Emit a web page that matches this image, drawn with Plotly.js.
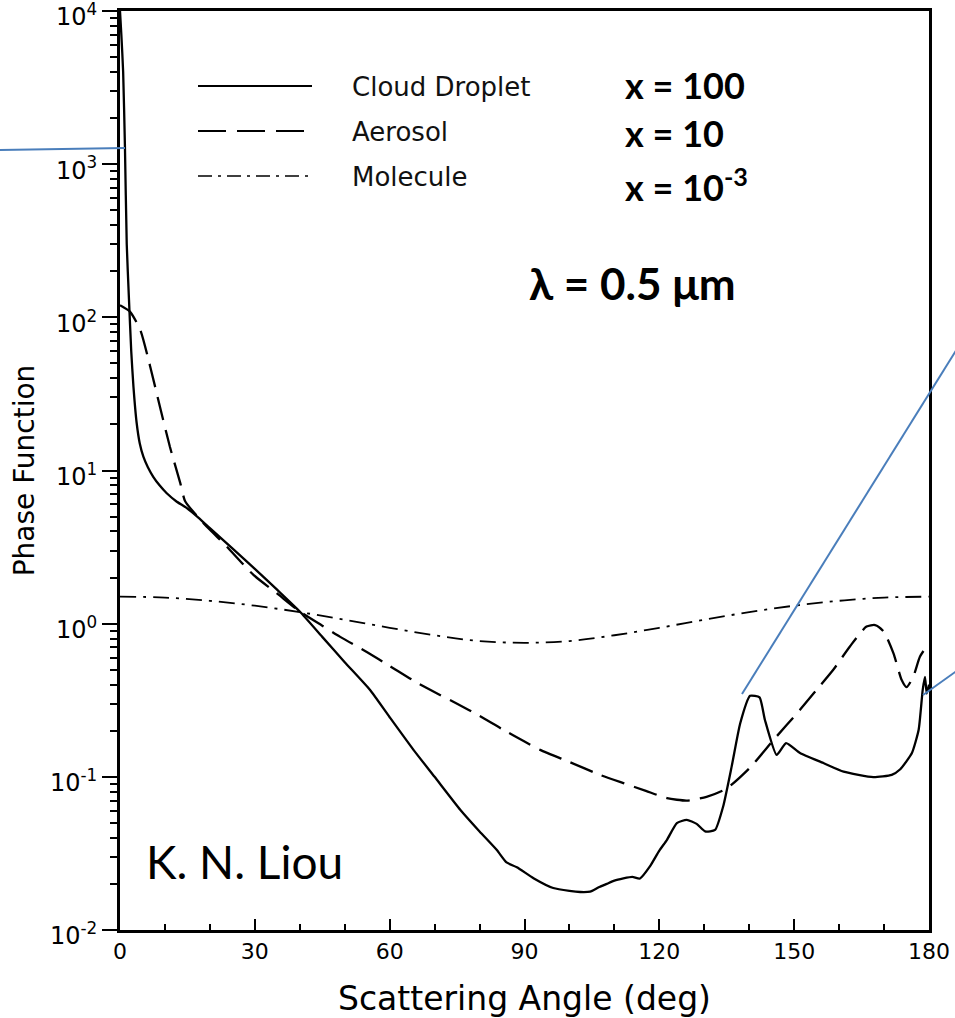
<!DOCTYPE html>
<html>
<head>
<meta charset="utf-8">
<script src="https://cdn.plot.ly/plotly-3.0.1.min.js"></script>
<style>html,body{margin:0;padding:0;background:#fff}#chart{width:955px;height:1018px}</style>
</head>
<body>
<div id="chart"></div>
<script>
// Cloud droplet (x = 100)
const cloudAngle = [0, 0.3, 0.7, 1.1, 1.5, 2.0, 2.5, 3.0, 3.7, 4.4, 5.2, 6.2, 7.4, 8.8, 10.4, 12.5, 14.8, 17.5, 20, 25, 30, 35, 40, 45, 50, 55.6, 60, 65.3, 70, 75.7, 80, 83.8, 86, 88.3, 92, 96.4, 100, 102.4, 104.6, 106.5, 108.3, 110, 112, 114, 115.7, 117.9, 120, 121.7, 123.9, 126.1, 128.3, 130.2, 132.4, 134.2, 136.1, 138, 140.2, 142.3, 143.5, 146.1, 148.2, 151.3, 156.5, 161, 167.6, 171.7, 173.6, 176.2, 177.7, 178.6, 179.1, 179.5, 180];
const cloudPhase = [10000, 7000, 4000, 1300, 300, 130, 60, 35, 20.5, 15, 12.3, 10.5, 9.1, 8, 7.1, 6.3, 5.7, 4.9, 4.2, 3.1, 2.28, 1.66, 1.2, 0.82, 0.56, 0.37, 0.245, 0.15, 0.1, 0.061, 0.044, 0.0334, 0.0276, 0.0257, 0.0218, 0.0188, 0.018, 0.0177, 0.0178, 0.019, 0.02, 0.021, 0.0217, 0.0222, 0.0217, 0.026, 0.033, 0.0388, 0.0499, 0.0524, 0.0493, 0.044, 0.045, 0.064, 0.117, 0.224, 0.338, 0.33, 0.235, 0.139, 0.166, 0.143, 0.123, 0.108, 0.0995, 0.103, 0.112, 0.143, 0.203, 0.37, 0.45, 0.35, 0.4];

// Aerosol (x = 10)
const aerosolAngle = [0, 2.2, 4.5, 6.7, 8.9, 11.1, 13.4, 14.5, 17.8, 20, 23.7, 29.7, 35, 40, 45, 49, 55, 60, 65, 69, 75, 80, 85, 90, 93.5, 100, 106.8, 112, 117, 121.7, 126.1, 130.5, 135, 140.2, 145.4, 151.3, 155, 158.7, 162.4, 166.1, 168, 169.9, 172.1, 173.9, 175, 176.5, 178, 180];
const aerosolPhase = [120, 109, 83, 48, 26, 14.3, 8.3, 6.3, 4.8, 4.1, 3.2, 2.08, 1.57, 1.2, 0.97, 0.82, 0.65, 0.53, 0.43, 0.37, 0.30, 0.25, 0.205, 0.17, 0.15, 0.125, 0.103, 0.091, 0.081, 0.0726, 0.07, 0.074, 0.084, 0.115, 0.174, 0.274, 0.37, 0.5, 0.71, 0.957, 0.98, 0.89, 0.64, 0.43, 0.385, 0.45, 0.61, 0.746];

// Molecule (x = 1e-3)
const moleculeAngle = [0, 10, 20, 30, 40, 50, 60, 70, 80, 90, 100, 110, 120, 130, 140, 150, 160, 170, 180];
const moleculePhase = [1.5, 1.48, 1.41, 1.31, 1.19, 1.06, 0.94, 0.84, 0.77, 0.75, 0.77, 0.84, 0.94, 1.06, 1.19, 1.31, 1.41, 1.48, 1.5];

const seriesNames = ['Cloud Droplet', 'Aerosol', 'Molecule'];
const sizeLabels = ['x = 100', 'x = 10', 'x = 10<sup>-3</sup>'];

const yTickVals = [0.01, 0.1, 1, 10, 100, 1000, 10000];
const yTickText = ['10<sup>-2</sup>', '10<sup>-1</sup>', '10<sup>0</sup>', '10<sup>1</sup>', '10<sup>2</sup>', '10<sup>3</sup>', '10<sup>4</sup>'];
const xTickVals = [0, 30, 60, 90, 120, 150, 180];

const helv = 'DejaVu Sans, Liberation Sans, Arial, sans-serif';
const cal = 'Lato, Open Sans, sans-serif';

const traces = [
  {x: cloudAngle, y: cloudPhase, name: seriesNames[0], mode: 'lines', line: {color: '#000', width: 2.3, shape: 'spline', smoothing: 0.5}},
  {x: aerosolAngle, y: aerosolPhase, name: seriesNames[1], mode: 'lines', line: {color: '#000', width: 2.3, dash: '24px,10px', shape: 'spline', smoothing: 0.6}},
  {x: moleculeAngle, y: moleculePhase, name: seriesNames[2], mode: 'lines', line: {color: '#000', width: 1.8, dash: '16px,7px,3px,7px', shape: 'spline'}}
];

// pixel helpers for decorations (plot area: x 120..929, y 11..930)
const px = v => (v - 120) / 809;
const py = v => (930 - v) / 919;

const legendRows = [86, 131, 176];
const legendDash = ['solid', '28px,11px', '14px,6px,3px,6px'];
const legendWidth = [2.2, 2.2, 1.6];

const shapes = [];
legendRows.forEach((r, i) => {
  shapes.push({type: 'line', xref: 'paper', yref: 'paper', x0: px(198), x1: px(312), y0: py(r), y1: py(r),
    line: {color: '#000', width: legendWidth[i], dash: legendDash[i]}});
});
const blue = {color: '#4a7ebb', width: 2};
shapes.push({type: 'line', xref: 'paper', yref: 'paper', x0: px(-5), y0: py(150), x1: px(125), y1: py(148), line: blue});
shapes.push({type: 'line', xref: 'paper', yref: 'paper', x0: px(742), y0: py(694), x1: px(975), y1: py(320), line: blue});
shapes.push({type: 'line', xref: 'paper', yref: 'paper', x0: px(923), y0: py(695), x1: px(965), y1: py(665), line: blue});

const annotations = [];
legendRows.forEach((r, i) => {
  annotations.push({xref: 'paper', yref: 'paper', x: px(350), y: py(r + 1), xanchor: 'left', yanchor: 'middle',
    text: seriesNames[i], showarrow: false, font: {family: helv, size: 26, color: '#111'}});
});
const sizeRows = [85, 133, 185];
sizeLabels.forEach((t, i) => {
  annotations.push({xref: 'paper', yref: 'paper', x: px(623), y: py(sizeRows[i]), xanchor: 'left', yanchor: 'middle',
    text: t, showarrow: false, font: {family: cal, size: 36, color: '#000', weight: 'bold'}});
});
annotations.push({xref: 'paper', yref: 'paper', x: px(527), y: py(283), xanchor: 'left', yanchor: 'middle',
  text: 'λ = 0.5 μm', showarrow: false, font: {family: cal, size: 44, color: '#000', weight: 'bold'}});
annotations.push({xref: 'paper', yref: 'paper', x: px(144), y: py(861), xanchor: 'left', yanchor: 'middle',
  text: 'K. N. Liou', showarrow: false, font: {family: cal, size: 46, color: '#000'}});

const layout = {
  width: 955, height: 1018,
  margin: {l: 120, r: 26, t: 11, b: 88, pad: 0},
  paper_bgcolor: '#fff', plot_bgcolor: '#fff',
  showlegend: false,
  font: {family: helv, color: '#000'},
  xaxis: {
    range: [0, 180], tickvals: xTickVals,
    showline: true, linewidth: 3, linecolor: '#000', mirror: true,
    ticks: 'inside', ticklen: 11, tickwidth: 2, tickcolor: '#000',
    minor: {ticks: 'inside', ticklen: 6, tickwidth: 2, dtick: 10, tick0: 0, tickcolor: '#000'},
    showgrid: false, zeroline: false, ticklabeloverflow: 'allow',
    tickfont: {family: helv, size: 22, color: '#000'},
    title: {text: 'Scattering Angle (deg)', font: {family: helv, size: 33, color: '#000'}, standoff: 26}
  },
  yaxis: {
    type: 'log', range: [-2, 4],
    tickvals: yTickVals, ticktext: yTickText,
    showline: true, linewidth: 3, linecolor: '#000', mirror: true,
    ticks: 'outside', ticklen: 15, tickwidth: 2, tickcolor: '#000',
    minor: {ticks: 'outside', ticklen: 7, tickwidth: 2, dtick: 'D1', tickcolor: '#000'},
    showgrid: false, zeroline: false, ticklabeloverflow: 'allow', ticklabelshift: 6,
    tickfont: {family: helv, size: 24, color: '#000'},
    title: {text: 'Phase Function', font: {family: helv, size: 28, color: '#000'}, standoff: 8}
  },
  shapes: shapes,
  annotations: annotations
};

Plotly.newPlot('chart', traces, layout, {displayModeBar: false, staticPlot: true});
</script>
</body>
</html>
